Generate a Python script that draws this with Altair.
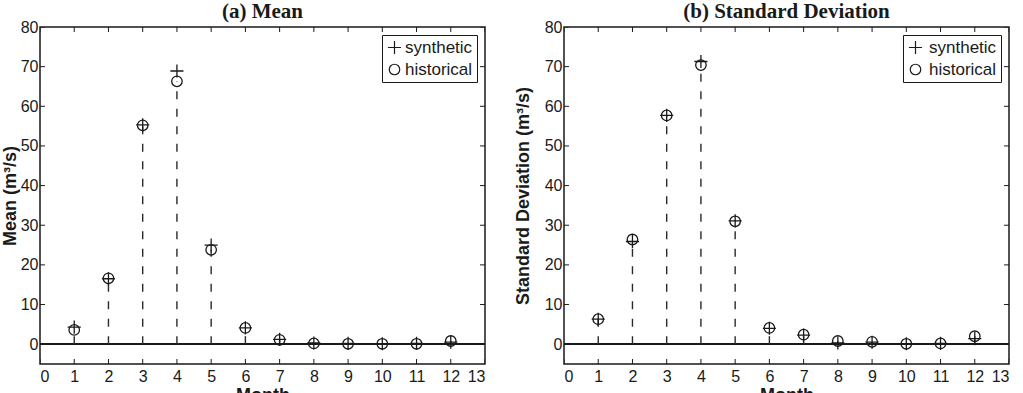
import altair as alt
import pandas as pd

# Monthly flow statistics: synthetic series vs. historical record
months = list(range(1, 13))
mean_synthetic = [4.3, 16.5, 55.3, 68.9, 25.0, 4.1, 1.2, 0.3, 0.2, 0.1, 0.2, 0.5]
mean_historical = [3.6, 16.6, 55.2, 66.3, 23.8, 4.1, 1.1, 0.2, 0.1, 0.1, 0.1, 0.8]
std_synthetic = [6.3, 25.9, 57.7, 71.3, 31.1, 4.0, 2.3, 0.3, 0.5, 0.1, 0.2, 1.4]
std_historical = [6.3, 26.4, 57.7, 70.4, 31.0, 4.1, 2.4, 0.8, 0.6, 0.1, 0.2, 2.0]

x_ticks = list(range(0, 14))
y_ticks = list(range(0, 81, 10))
series_names = ["synthetic", "historical"]
X_MIN, X_MAX = 0, 13
Y_MIN, Y_MAX = -5, 80

W, H = 445, 337
TICK = 5
SANS = "Liberation Sans"
SERIF = "Liberation Serif"
INK = "#1a1a1a"
PLUS = "M-1.25,0L1.25,0M0,-1.25L0,1.25"

x_scale = alt.Scale(domain=[X_MIN, X_MAX], nice=False, zero=False)
y_scale = alt.Scale(domain=[Y_MIN, Y_MAX], nice=False, zero=False)


def inward_ticks():
    # MATLAB-style ticks pointing into the box on all four sides:
    # a tick of length 2*TICK centred on each frame edge, clipped to the plot
    xt = pd.DataFrame({"tick": x_ticks})
    yt = pd.DataFrame({"tick": y_ticks})
    layers = []
    for edge in (Y_MIN, Y_MAX):
        layers.append(
            alt.Chart(xt).mark_tick(orient="vertical", size=2 * TICK, thickness=1,
                                    color=INK, clip=True, opacity=1).encode(
                x=alt.X("tick:Q", scale=x_scale, axis=None),
                y=alt.YDatum(edge, scale=y_scale, axis=None),
            )
        )
    for edge in (X_MIN, X_MAX):
        layers.append(
            alt.Chart(yt).mark_tick(orient="horizontal", size=2 * TICK, thickness=1,
                                    color=INK, clip=True, opacity=1).encode(
                y=alt.Y("tick:Q", scale=y_scale, axis=None),
                x=alt.XDatum(edge, scale=x_scale, axis=None),
            )
        )
    return layers


def panel(title, y_title, synthetic, historical, label_offset, y_title_pad):
    stems = pd.DataFrame({"month": months, "historical": historical})
    points = pd.DataFrame({
        "month": months + months,
        "value": synthetic + historical,
        "series": ["synthetic"] * len(months) + ["historical"] * len(months),
    })

    legend = alt.Legend(
        title=None, orient="top-right", offset=8, padding=4,
        strokeColor=INK, fillColor="white", cornerRadius=0,
        labelFont=SANS, labelFontSize=17, labelColor=INK, labelOffset=label_offset,
        symbolSize=110, symbolStrokeWidth=1.2, symbolStrokeColor=INK,
        rowPadding=3,
    )
    shape = alt.Shape("series:N", scale=alt.Scale(domain=series_names, range=[PLUS, "circle"]),
                      legend=legend)

    x_main = alt.Axis(values=x_ticks, ticks=False, tickSize=0, domain=False, grid=False,
                      labelPadding=4, labelFont=SANS, labelFontSize=16, labelColor=INK,
                      labelAngle=0, format="d", title="Month", titleFont=SANS,
                      titleFontSize=18, titleFontWeight="bold", titleColor=INK, titlePadding=2)
    y_main = alt.Axis(values=y_ticks, ticks=False, tickSize=0, domain=False, grid=False,
                      labelPadding=2, labelFont=SANS, labelFontSize=16, labelColor=INK,
                      format="d", title=y_title, titleFont=SANS, titleFontSize=18,
                      titleFontWeight="bold", titleColor=INK, titlePadding=y_title_pad,
                      minExtent=0)

    baseline = alt.Chart(stems).mark_rule(color=INK, strokeWidth=1.5).encode(
        y=alt.YDatum(0, scale=y_scale, axis=None)
    )

    stem_lines = alt.Chart(stems).mark_rule(
        color="#2a2a2a", strokeWidth=1.4, strokeDash=[8, 9.5]
    ).transform_calculate(base="0").encode(
        x=alt.X("month:Q", scale=x_scale, axis=x_main),
        y=alt.Y("base:Q", scale=y_scale, axis=y_main),
        y2="historical:Q",
    )

    def markers(name):
        return alt.Chart(points).transform_filter(
            alt.datum.series == name
        ).mark_point(filled=False, color=INK, size=110, strokeWidth=1.3, opacity=1).encode(
            x=alt.X("month:Q", scale=x_scale, axis=None),
            y=alt.Y("value:Q", scale=y_scale, axis=None),
            shape=shape,
        )

    return alt.layer(
        baseline, stem_lines, *inward_ticks(), markers("historical"), markers("synthetic")
    ).resolve_axis(x="independent", y="independent").properties(
        width=W, height=H,
        title=alt.TitleParams(title, font=SERIF, fontSize=21, fontWeight="bold",
                              color=INK, offset=-3, frame="group", anchor="middle"),
    )


left = panel("(a) Mean", "Mean (m³/s)", mean_synthetic, mean_historical, 2, 1)
right = panel("(b) Standard Deviation", "Standard Deviation (m³/s)",
              std_synthetic, std_historical, 5, 12)

chart = alt.hconcat(left, right, spacing=79, bounds="flush").resolve_scale(
    shape="independent"
).resolve_legend(shape="independent").properties(
    padding={"left": 0, "top": 0, "right": 5, "bottom": 0},
    background="white",
).configure_view(stroke=INK, strokeWidth=1.5)

chart.save("out.html", embed_options={"renderer": "svg", "actions": False})
